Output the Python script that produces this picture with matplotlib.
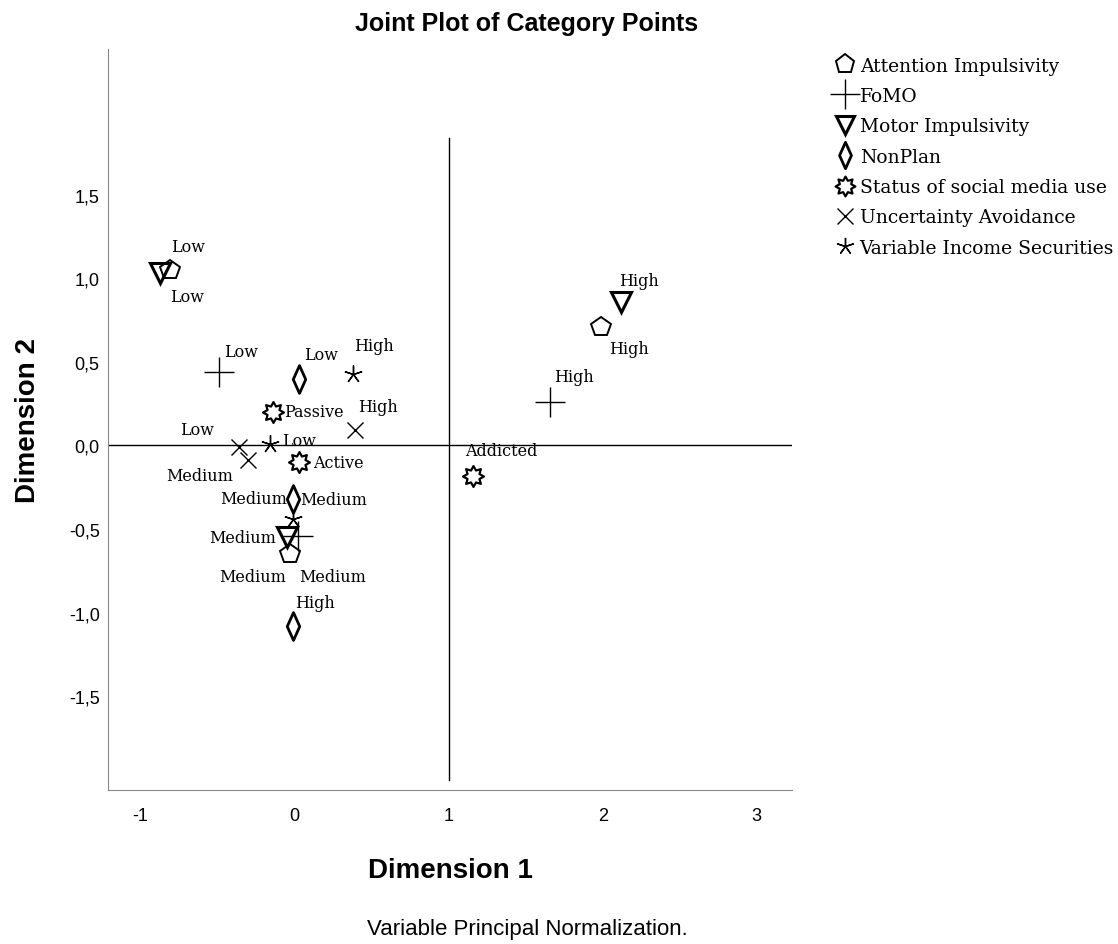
import numpy as np
import matplotlib
matplotlib.use('Agg')
import matplotlib.pyplot as plt
from matplotlib.path import Path

plt.rcParams['axes.unicode_minus'] = False

# Category points (Dimension 1, Dimension 2) per variable
variables = ['Attention Impulsivity', 'FoMO', 'Motor Impulsivity', 'NonPlan',
             'Status of social media use', 'Uncertainty Avoidance',
             'Variable Income Securities']

attention_cats = ['Low', 'Medium', 'High']
attention_d1 = [-0.81, -0.03, 1.99]
attention_d2 = [1.05, -0.65, 0.71]

fomo_cats = ['Low', 'Medium', 'High']
fomo_d1 = [-0.49, 0.02, 1.66]
fomo_d2 = [0.44, -0.54, 0.26]

motor_cats = ['Low', 'Medium', 'High']
motor_d1 = [-0.87, -0.05, 2.12]
motor_d2 = [1.03, -0.55, 0.86]

nonplan_cats = ['Low', 'Medium', 'High']
nonplan_d1 = [0.03, -0.01, -0.01]
nonplan_d2 = [0.40, -0.32, -1.08]

status_cats = ['Passive', 'Active', 'Addicted']
status_d1 = [-0.14, 0.03, 1.16]
status_d2 = [0.20, -0.10, -0.18]

uncert_cats = ['Low', 'Medium', 'High']
uncert_d1 = [-0.36, -0.30, 0.39]
uncert_d2 = [-0.01, -0.09, 0.09]

income_cats = ['Low', 'Medium', 'High']
income_d1 = [-0.16, -0.01, 0.38]
income_d2 = [0.01, -0.44, 0.43]

# sun-like marker for the status variable
n = 16
ang = np.linspace(0, 2 * np.pi, n, endpoint=False) + np.pi / 2
rad = np.where(np.arange(n) % 2 == 0, 1.0, 0.62)
verts = np.column_stack([rad * np.cos(ang), rad * np.sin(ang)])
verts = np.vstack([verts, verts[0]])
sun = Path(verts, [Path.MOVETO] + [Path.LINETO] * (n - 1) + [Path.CLOSEPOLY])

# tall narrow diamond for NonPlan
diamond = Path([(0, 1), (0.45, 0), (0, -1), (-0.45, 0), (0, 1)],
               [Path.MOVETO, Path.LINETO, Path.LINETO, Path.LINETO, Path.CLOSEPOLY])

# marker style per variable
styles = [
    dict(marker='p', ms=15, mew=1.4, mfc='none'),
    dict(marker='+', ms=22, mew=1.0),
    dict(marker='v', ms=14, mew=2.2, mfc='none'),
    dict(marker=diamond, ms=20, mew=2.0, mfc='none'),
    dict(marker=sun, ms=15, mew=1.6, mfc='none'),
    dict(marker='x', ms=12, mew=1.0),
    dict(marker=(5, 2, 0), ms=13, mew=1.0),
]

# label offsets in points (dx, dy, ha) per category
offsets = [
    [(13, 17, 'center'), (-27, -16, 'center'), (20, -16, 'center')],
    [(16, 15, 'center'), (25, -29, 'center'), (17, 18, 'center')],
    [(19, -17, 'center'), (-8, 0, 'right'), (13, 15, 'center')],
    [(16, 17, 'center'), (-4, 0, 'right'), (16, 17, 'center')],
    [(8, 0, 'left'), (10, 0, 'left'), (-6, 18, 'left')],
    [(-30, 13, 'center'), (-35, -11, 'center'), (17, 17, 'center')],
    [(9, 2, 'left'), (5, 14, 'left'), (15, 20, 'center')],
]

all_cats = [attention_cats, fomo_cats, motor_cats, nonplan_cats,
            status_cats, uncert_cats, income_cats]
all_d1 = [attention_d1, fomo_d1, motor_d1, nonplan_d1,
          status_d1, uncert_d1, income_d1]
all_d2 = [attention_d2, fomo_d2, motor_d2, nonplan_d2,
          status_d2, uncert_d2, income_d2]

serif = ['DejaVu Serif']
sans = ['Liberation Sans', 'DejaVu Sans']

fig = plt.figure(figsize=(11.18, 9.45), dpi=100)
ax = fig.add_axes([0.0966, 0.163, 0.612, 0.784])

# reference lines
ax.axhline(0, color='black', lw=1.0, zorder=1)
ax.plot([1, 1], [-2.0, 1.84], color='black', lw=1.0, zorder=1)

for i, var in enumerate(variables):
    ax.plot(all_d1[i], all_d2[i], ls='none', color='black', mec='black',
            label=var, zorder=3, **styles[i])
    for j, cat in enumerate(all_cats[i]):
        dx, dy, ha = offsets[i][j]
        ax.annotate(cat, (all_d1[i][j], all_d2[i][j]), xytext=(dx, dy),
                    textcoords='offset points', ha=ha, va='center',
                    fontsize=11.5, family=serif, zorder=4)

ax.set_xlim(-1.21, 3.23)
ax.set_ylim(-2.06, 2.37)
ax.set_xticks([-1, 0, 1, 2, 3])
ax.set_yticks([-1.5, -1.0, -0.5, 0.0, 0.5, 1.0, 1.5])
ax.set_yticklabels([('%.1f' % v).replace('.', ',') for v in ax.get_yticks()])
ax.tick_params(length=0, labelsize=13)
ax.tick_params(axis='x', pad=12)
ax.tick_params(axis='y', pad=6)
for lab in ax.get_xticklabels() + ax.get_yticklabels():
    lab.set_family(sans)
for s in ['top', 'right']:
    ax.spines[s].set_visible(False)
for s in ['left', 'bottom']:
    ax.spines[s].set_color('#888888')

ax.set_xlabel('Dimension 1', fontsize=20, fontweight='bold', family=sans,
              labelpad=24)
ax.set_ylabel('Dimension 2', fontsize=20, fontweight='bold', family=sans,
              labelpad=20)

# title and footnote are centred over the whole chart area
fig.text(527 / 1118, 1 - 31 / 945, 'Joint Plot of Category Points',
         ha='center', va='baseline', fontsize=18, fontweight='bold',
         family=sans)
fig.text(367 / 1118, 1 - 930 / 945, 'Variable Principal Normalization.',
         ha='left', va='center', fontsize=16, family=sans)

leg = ax.legend(loc='upper left', bbox_to_anchor=(1.052, 1.0), frameon=False,
                prop={'family': serif, 'size': 13.5}, handlelength=1.0,
                handletextpad=0.3, labelspacing=0.66, markerscale=0.95,
                borderaxespad=0)

fig.savefig('out.png', dpi=100)
